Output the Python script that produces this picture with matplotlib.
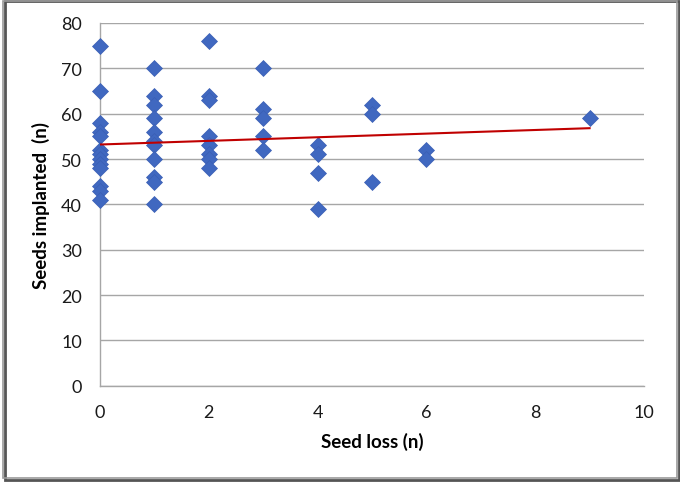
import matplotlib.pyplot as plt
from matplotlib.patches import Rectangle

# seed loss (x) and seeds implanted (y)
loss = ([0] * 13 + [1] * 11 + [2] * 8 + [3] * 5 + [4] * 4 + [5] * 3 + [6] * 2 + [9])
implanted = [75, 65, 58, 56, 55, 52, 51, 50, 49, 48, 44, 43, 41,
             70, 64, 62, 59, 56, 54, 53, 50, 46, 45, 40,
             76, 64, 63, 55, 53, 51, 50, 48,
             70, 61, 59, 55, 52,
             53, 51, 47, 39,
             62, 60, 45,
             52, 50,
             59]

# linear trend line as drawn in the chart
trend_x = [0, 9]
trend_y = [53.2, 56.8]

xticks = [0, 2, 4, 6, 8, 10]
yticks = [0, 10, 20, 30, 40, 50, 60, 70, 80]

plt.rcParams['font.family'] = ['Lato', 'DejaVu Sans']

fig = plt.figure(figsize=(6.8, 4.85), dpi=100)
ax = fig.add_axes([100 / 680, 1 - 386.7 / 485, 544 / 680, 362.7 / 485])

ax.set_xlim(0, 10)
ax.set_ylim(0, 80)
ax.set_xticks(xticks)
ax.set_yticks(yticks)
ax.grid(axis='y', color='#a6a6a6', lw=1)
ax.set_axisbelow(True)

for s in ['top', 'right']:
    ax.spines[s].set_visible(False)
for s in ['left', 'bottom']:
    ax.spines[s].set_color('#a6a6a6')
    ax.spines[s].set_linewidth(1)
ax.tick_params(length=0, labelsize=13, colors='#1a1a1a', pad=13)

ax.plot(loss, implanted, 'D', ms=8.5, color='#4068c0', mec='#3a5fb4', mew=0.5,
        clip_on=False, zorder=3)
ax.plot(trend_x, trend_y, color='#c00000', lw=1.5, zorder=4)

ax.set_xlabel('Seed loss (n)', fontsize=13.5, fontweight='bold', labelpad=9)
ax.set_ylabel('Seeds implanted  (n)', fontsize=13.5, fontweight='bold', labelpad=8)

# chart border with a shadow
fig.patches.append(Rectangle((5 / 680, 4 / 485), 674 / 680, 479 / 485,
                             transform=fig.transFigure, fill=False,
                             ec='#555555', lw=2))
fig.patches.append(Rectangle((3 / 680, 6 / 485), 674 / 680, 477 / 485,
                             transform=fig.transFigure, fill=False,
                             ec='#9a9a9a', lw=1.2))

fig.savefig('out.png', dpi=100)
